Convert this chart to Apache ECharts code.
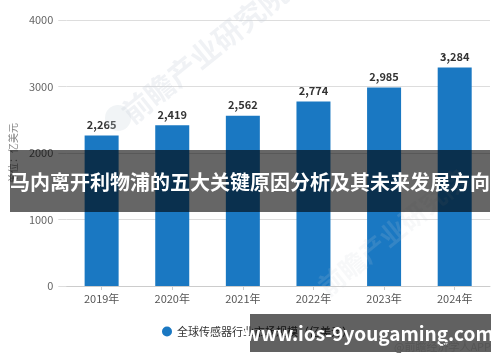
<!DOCTYPE html>
<html><head><meta charset="utf-8">
<script src="https://cdn.jsdelivr.net/npm/echarts@6/dist/echarts.min.js"></script>
<style>html,body{margin:0;padding:0;background:#fff}#c{width:500px;height:362px}</style>
</head><body><div id="c"></div>
<script>
const categories = ['2019年','2020年','2021年','2022年','2023年','2024年'];
const marketSize = [2265, 2419, 2562, 2774, 2985, 3284];
const seriesName = '全球传感器行业市场规模（亿美元）';
const yAxisName = '单位：亿美元';
const overlayTitle = '马内离开利物浦的五大关键原因分析及其未来发展方向';
const overlaySite = 'www.ios-9yougaming.com';
const sourceText = '@前瞻经济学人APP';
const watermark = '前瞻产业研究院';

const FONT = '"Noto Sans CJK SC","Noto Sans",sans-serif';
const chart = echarts.init(document.getElementById('c'), null, {renderer: 'canvas'});
chart.setOption({
  animation: false,
  textStyle: {fontFamily: FONT},
  grid: {left: 62, right: 10, top: 20, bottom: 76, containLabel: false},
  legend: {
    data: [seriesName], left: 157, top: 321, icon: 'circle',
    itemWidth: 10, itemHeight: 10, itemGap: 6,
    textStyle: {color: '#333', fontSize: 11, fontFamily: FONT}
  },
  xAxis: {
    type: 'category', data: categories,
    axisLine: {lineStyle: {color: '#ccc'}},
    axisTick: {show: true, alignWithLabel: true, length: 4, lineStyle: {color: '#ccc'}},
    axisLabel: {color: '#555', fontSize: 11, margin: 7, fontFamily: FONT}
  },
  yAxis: {
    type: 'value', min: 0, max: 4000, interval: 1000,
    name: yAxisName, nameLocation: 'middle', nameGap: 45, nameRotate: 90,
    nameTextStyle: {color: '#888', fontSize: 10, fontFamily: FONT},
    axisLine: {show: false},
    axisTick: {show: true, length: 8, lineStyle: {color: '#ddd'}},
    axisLabel: {color: '#666', fontSize: 11, margin: 13, fontFamily: FONT,
                formatter: v => String(v)},
    splitLine: {lineStyle: {color: '#ddd'}}
  },
  series: [{
    name: seriesName, type: 'bar', data: marketSize, barWidth: 34,
    itemStyle: {color: '#1a78c2'},
    label: {
      show: true, position: 'top', distance: 5,
      color: '#333', fontWeight: 'bold', fontSize: 11, fontFamily: FONT,
      formatter: p => p.value.toLocaleString('en-US')
    }
  }],
  graphic: [
    {type: 'circle', z: 50, shape: {cx: 118, cy: 118, r: 13},
     style: {fill: 'rgba(200,210,220,0.25)'}},
    {type: 'text', z: 50, x: 135, y: 128, rotation: 0.68,
     style: {text: watermark, fill: 'rgba(200,208,218,0.28)', font: 'bold 29px ' + FONT,
             textVerticalAlign: 'bottom'}},
    {type: 'text', z: 50, x: 330, y: 300, rotation: 0.68,
     style: {text: watermark, fill: 'rgba(200,208,218,0.15)', font: 'bold 26px ' + FONT,
             textVerticalAlign: 'bottom'}},
    {type: 'rect', z: 100, shape: {x: 10, y: 150, width: 480, height: 62},
     style: {fill: 'rgba(0,0,0,0.6)'}},
    {type: 'text', z: 101, x: 250, y: 182,
     style: {text: overlayTitle, fill: '#fff', font: 'bold 20px ' + FONT,
             textAlign: 'center', textVerticalAlign: 'middle'}},
    {type: 'rect', z: 100, shape: {x: 250, y: 314, width: 241, height: 38},
     style: {fill: 'rgba(0,0,0,0.62)'}},
    {type: 'text', z: 101, x: 369, y: 334,
     style: {text: overlaySite, fill: '#fff', font: 'bold 19px ' + FONT,
             textAlign: 'center', textVerticalAlign: 'middle'}},
    {type: 'text', z: 102, x: 491, y: 347,
     style: {text: sourceText, fill: '#555', font: '11px ' + FONT,
             textAlign: 'right', textVerticalAlign: 'middle'}}
  ]
});
</script></body></html>
